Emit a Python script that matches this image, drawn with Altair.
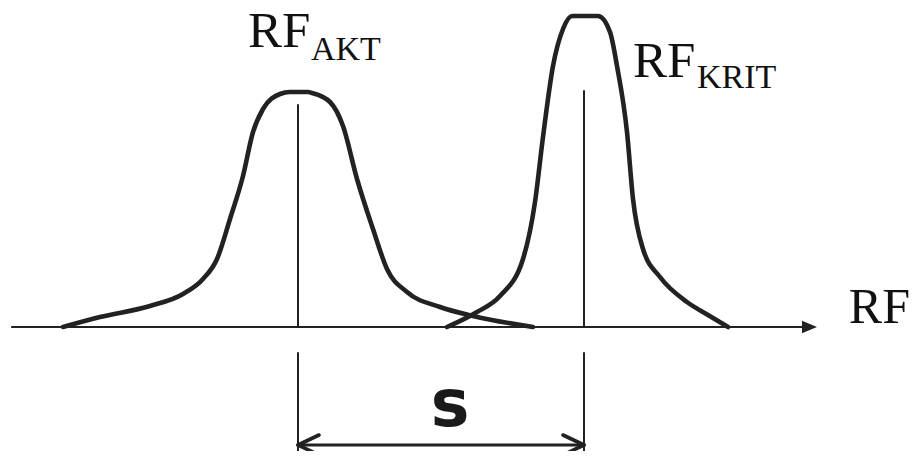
import altair as alt
import pandas as pd

# ---- data (RF position, signal height above the RF axis) ----
akt_rf = [63, 100, 150, 183, 203, 217, 230, 243, 253, 263, 280, 290, 298, 308, 312, 330, 343, 357, 373, 387, 407, 440, 473, 533]
akt_sig = [0, 10, 21, 33, 48, 68, 108, 151, 195, 218, 233, 235, 235, 235, 234, 225, 201, 148, 98, 58, 35, 20, 11, 0]
krit_rf = [447, 477, 500, 523, 535, 543, 553, 563, 572, 585, 598, 610, 617, 627, 633, 643, 660, 687, 708, 728]
krit_sig = [0, 15, 31, 68, 125, 190, 261, 298, 311, 311, 311, 295, 261, 195, 128, 78, 50, 25, 12, 0]

peak_names = ["AKT", "KRIT"]
peak_rf = [298, 584]
peak_marker_top = [222, 236]

axis_start, axis_end = 12, 817
dim_level = -118
dim_top, dim_bottom = -26, -124
head_len, head_half = 21, 10

X_DOM = [8, 911]
Y_DOM = [-124, 319]
INK = "#222222"


def X(field="x"):
    return alt.X(field, type="quantitative", scale=alt.Scale(domain=X_DOM, nice=False, zero=False), axis=None)


def Y(field="y"):
    return alt.Y(field, type="quantitative", scale=alt.Scale(domain=Y_DOM, nice=False, zero=False), axis=None)


curves = pd.DataFrame(
    {"x": akt_rf + krit_rf,
     "y": akt_sig + krit_sig,
     "peak": ["AKT"] * len(akt_rf) + ["KRIT"] * len(krit_rf),
     "i": list(range(len(akt_rf))) + list(range(len(krit_rf)))}
)

curve_layer = alt.Chart(curves).mark_line(
    interpolate="monotone", strokeWidth=4.6, color=INK, strokeCap="round", strokeJoin="round"
).encode(x=X(), y=Y(), detail="peak:N", order="i:Q")

# rules: axis, peak markers, dimension lines, arrowheads
rules = []
rules.append({"x": axis_start, "x2": axis_end - 10, "y": 0, "y2": 0, "w": 2.2})
for rf, top in zip(peak_rf, peak_marker_top):
    rules.append({"x": rf, "x2": rf, "y": 0, "y2": top, "w": 2})
    rules.append({"x": rf, "x2": rf, "y": dim_top, "y2": dim_bottom, "w": 2})
rules.append({"x": peak_rf[0], "x2": peak_rf[1], "y": dim_level, "y2": dim_level, "w": 3})
for rf, d in zip(peak_rf, [1, -1]):
    for s in [1, -1]:
        rules.append({"x": rf, "x2": rf + d * head_len, "y": dim_level, "y2": dim_level + s * head_half, "w": 3.6})
rules_df = pd.DataFrame(rules)

rule_layer = alt.Chart(rules_df).mark_rule(color=INK, strokeCap="round").encode(
    x=X(), x2="x2", y=Y(), y2="y2",
    strokeWidth=alt.StrokeWidth("w:Q", scale=None),
)

arrow_df = pd.DataFrame({"x": [axis_end], "y": [0]})
arrow_layer = alt.Chart(arrow_df).mark_point(
    shape="M0,0L-1,-0.42L-1,0.42Z", filled=True, size=900, color=INK, opacity=1
).encode(x=X(), y=Y())

# labels
main_df = pd.DataFrame({"x": [248, 633], "y": [280, 250], "t": ["RF", "RF"]})
sub_df = pd.DataFrame({"x": [311, 697], "y": [267, 239], "t": peak_names})
axis_lab_df = pd.DataFrame({"x": [910], "y": [4], "t": ["RF"]})

main_text = alt.Chart(main_df).mark_text(
    align="left", baseline="alphabetic", font="Liberation Serif", fontSize=51, color="#111111"
).encode(x=X(), y=Y(), text="t:N")
sub_text = alt.Chart(sub_df).mark_text(
    align="left", baseline="alphabetic", font="Liberation Serif", fontSize=34, color="#111111"
).encode(x=X(), y=Y(), text="t:N")
axis_text = alt.Chart(axis_lab_df).mark_text(
    align="right", baseline="alphabetic", font="Liberation Serif", fontSize=50, color="#111111"
).encode(x=X(), y=Y(), text="t:N")

s_df = pd.DataFrame({"x": [(peak_rf[0] + peak_rf[1]) / 2 + 9], "y": [-99], "t": ["s"]})
s_text = alt.Chart(s_df).mark_text(
    align="center", baseline="alphabetic", font="DejaVu Sans", fontWeight="bold", fontSize=65, color="#1a1a1a"
).encode(x=X(), y=Y(), text="t:N")

chart = alt.layer(curve_layer, rule_layer, arrow_layer, main_text, sub_text, axis_text, s_text).properties(
    width=903, height=443, padding=0, autosize=alt.AutoSizeParams(type="none"), background="white"
).configure_view(stroke=None)

chart.save("out.html", embed_options={"renderer": "svg", "actions": False})
